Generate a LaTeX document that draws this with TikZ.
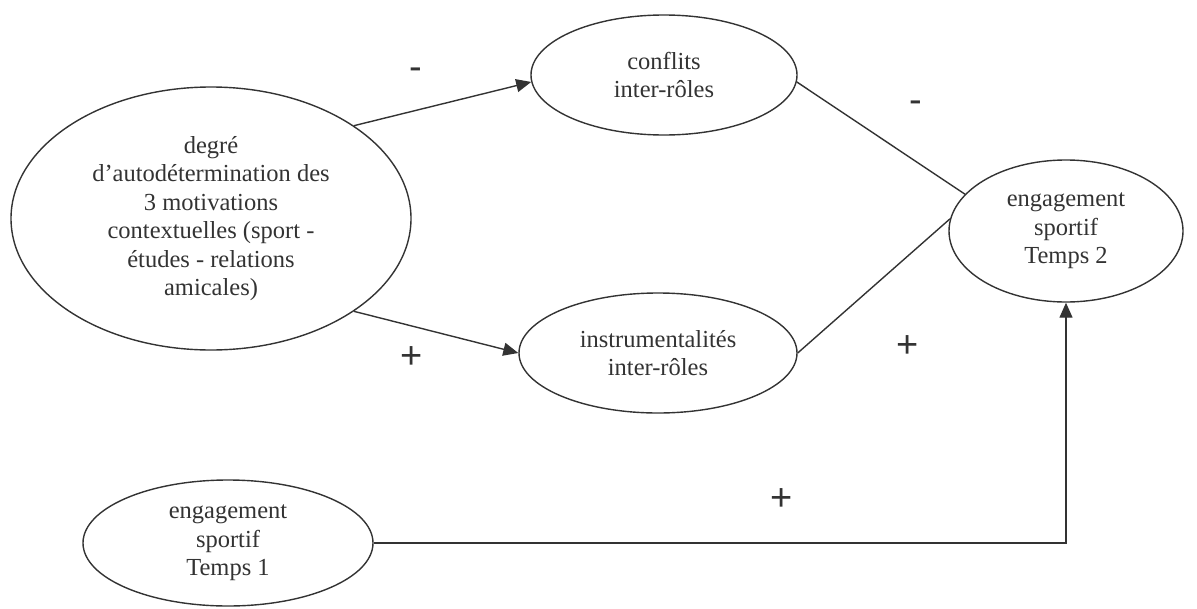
\documentclass[tikz,border=0pt]{standalone}
\usepackage{fontspec}
\setmainfont{Liberation Serif}
\newfontfamily\signfont{Liberation Sans}
\usetikzlibrary{shapes.geometric,arrows.meta}
\definecolor{ink}{HTML}{333333}
\tikzset{
  oval/.style={ellipse, draw=ink, line width=1.4pt, inner sep=0pt, align=center,
    text=ink, font=\fontsize{24.5}{28.5}\selectfont},
  link/.style={draw=ink, line width=1.4pt},
  arr/.style={link, -{Triangle[length=15pt,width=13pt]}},
  sign/.style={text=ink, font=\signfont\fontsize{38}{38}\selectfont, inner sep=0pt}
}
\begin{document}
\begin{tikzpicture}[x=1pt,y=-1pt]
\useasboundingbox (0,0) rectangle (1197,608);

% variables of the model
\node[oval, minimum width=400pt, minimum height=263pt] (det) at (211,218.5)
  {degré\\d’autodétermination des\\3 motivations\\contextuelles (sport -\\études - relations\\amicales)};
\node[oval, minimum width=266pt, minimum height=120pt] (conf) at (664,75)
  {conflits\\inter-rôles};
\node[oval, minimum width=278pt, minimum height=120pt] (instr) at (658,353)
  {instrumentalités\\inter-rôles};
\node[oval, minimum width=234pt, minimum height=142pt] (eng2) at (1066,231)
  {engagement\\sportif\\Temps 2};
\node[oval, minimum width=290pt, minimum height=126pt] (eng1) at (228,543)
  {engagement\\sportif\\Temps 1};

% paths between them
\draw[arr] (det.33) -- (conf.183);
\draw[arr] (det.-33) -- (instr.west);
\draw[link] (conf.-3) -- (eng2.160);
\draw[link] (instr.east) -- (eng2.174);
\draw[arr] (eng1.east) -| (eng2.south);

% signs of the effects
\node[sign] (s1) at (416,74) {-};
\node[sign] (s2) at (412,358) {+};
\node[sign] (s3) at (916,107) {-};
\node[sign] (s4) at (908,347) {+};
\node[sign] (s5) at (782,500) {+};
\end{tikzpicture}
\end{document}
